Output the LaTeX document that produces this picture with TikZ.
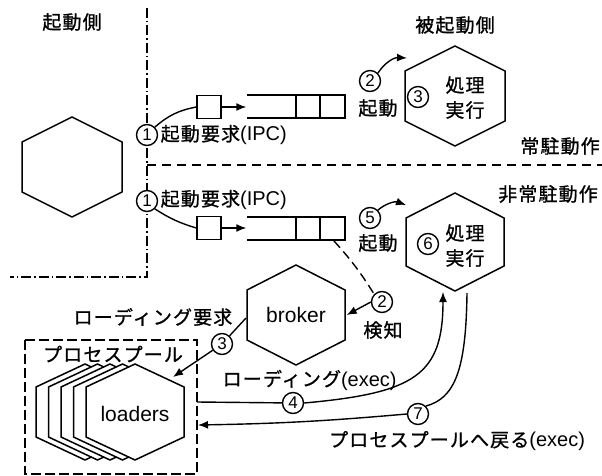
\documentclass[tikz,border=0pt]{standalone}
\usepackage{fontspec}
\setmainfont{Liberation Sans}
\newfontfamily\jp[LetterSpace=6,FakeBold=1]{Noto Sans CJK JP}
\usetikzlibrary{arrows.meta}
\newcommand{\hexshape}[5][]{\draw[#1] (#2) ++(0,{-(#4+#5/2)}) -- ++(#3,#4) -- ++(0,#5) -- ++(-#3,#4) -- ++(-#3,-#4) -- ++(0,-#5) -- cycle;}
\begin{document}
\begin{tikzpicture}[x=1pt,y=-1pt, line width=1.4pt,
  lat/.style={inner sep=0pt, font=\fontsize{21}{24}\selectfont},
  jtxt/.style={inner sep=0pt, font=\jp\fontsize{19}{22}\selectfont},
  num/.style={circle, draw, line width=1.4pt, minimum size=21pt, inner sep=0pt, fill=white, font=\fontsize{17}{17}\selectfont},
  hexbox/.style={minimum width=100pt, minimum height=100pt, inner sep=0pt},
  hexline/.style={line width=1.5pt, fill=white},
  arr/.style={-{Latex[length=10pt,width=8pt]}},
  dashdot/.style={line width=1.4pt, dash pattern=on 10pt off 3pt on 1.5pt off 3pt},
  dsh/.style={line width=1.4pt, dash pattern=on 9pt off 6pt},
  box/.style={draw, line width=1.4pt, minimum width=24pt, minimum height=23pt, inner sep=0pt},
]
\useasboundingbox (0,0) rectangle (602,476);

% region separators
\coordinate (vtop) at (147,8);
\coordinate (vmid) at (147,165);
\coordinate (vbot) at (147,277);
\coordinate (hleft) at (10,277);
\coordinate (hright) at (602,165);
\draw[dashdot] (vtop) -- (vmid) -- (vbot) -- (hleft);
\draw[dsh] (vmid) -- (hright);

% headings
\node[jtxt] (hdA) at (72,22) {起動側};
\node[jtxt] (hdB) at (455,25) {被起動側};
\node[jtxt] (hdC) at (560,146) {常駐動作};
\node[jtxt] (hdD) at (548,194) {非常駐動作};

% left hexagon
\hexshape[hexline]{72,167}{50}{25}{50}
\node[hexbox] (lhex) at (72,167) {};

% upper right hexagon
\hexshape[hexline]{455,96}{50}{25}{50}
\node[hexbox] (uhex) at (455,96) {};
\node[jtxt] (uhexA) at (465,85) {処理};
\node[jtxt] (uhexB) at (465,110) {実行};
\node[num] (n3u) at (418,97) {3};

% lower right hexagon
\hexshape[hexline]{455,242}{49}{25}{48}
\node[hexbox] (dhex) at (455,242) {};
\node[jtxt] (dhexA) at (465,233) {処理};
\node[jtxt] (dhexB) at (465,258) {実行};
\node[num] (n6) at (428,244) {6};

% upper queue
\node[box] (usq) at (209,107) {};
\node[inner sep=0pt, minimum width=0pt] (uqin) at (247,107) {};
\draw (247,95) -- (345,95) -- (345,118) -- (247,118);
\draw (296,95) -- (296,118);
\draw (320,95) -- (320,118);
\draw[arr] (usq) -- (uqin);
\node[num] (n1u) at (147,135) {1};
\node[anchor=west, inner sep=0pt] (req1) at (160,135) {\jp\fontsize{19}{22}\selectfont 起動要求\rmfamily\fontsize{20}{22}\selectfont(IPC)};
\draw (n1u.north east) to[bend left=15] (usq.west);
\node[num] (n2u) at (370,81) {2};
\node[jtxt] (kd1) at (378,108) {起動};
\coordinate (tipU) at (407,58);
\draw[arr] (n2u.north east) to[bend left=30] (tipU);

% lower queue
\node[box] (dsq) at (209,228) {};
\node[inner sep=0pt, minimum width=0pt] (dqin) at (247,228) {};
\draw (247,217) -- (345,217) -- (345,240) -- (247,240);
\draw (296,217) -- (296,240);
\draw (320,217) -- (320,240);
\draw[arr] (dsq) -- (dqin);
\node[num] (n1d) at (147,201) {1};
\node[anchor=west, inner sep=0pt] (req2) at (160,200) {\jp\fontsize{19}{22}\selectfont 起動要求\rmfamily\fontsize{20}{22}\selectfont(IPC)};
\draw (n1d.south east) to[bend right=8] (dsq.west);
\node[num] (n5) at (370,218) {5};
\node[jtxt] (kd2) at (378,243) {起動};
\coordinate (tipD) at (406,205);
\draw[arr] (n5.north east) to[bend left=30] (tipD);
\coordinate (qout) at (334,241);

% broker
\hexshape[hexline]{296,315}{49}{25}{50}
\node[hexbox, lat] (broker) at (296,315) {broker};
\node[num] (n2d) at (382,302) {2};
\node[jtxt] (kenchi) at (383,330) {検知};
\draw[dsh, dash pattern=on 9pt off 5pt] (qout) to[bend left=5] (n2d.north west);
\draw[arr] (n2d.west) -- (broker.east);

% process pool
\draw[dsh, dash pattern=on 10pt off 4pt] (25,340) rectangle (197,474);
\node[jtxt] (pool) at (113,354) {プロセスプール};
\foreach \i in {4,3,2,1} {
  \hexshape[hexline]{{135-12.5*\i},412}{49}{23}{50}
}
\hexshape[hexline]{135,412}{49}{23}{50}
\node[hexbox, lat] (loaders) at (135,414) {loaders};

% loading request
\node[jtxt, anchor=east] (ldreq) at (233,317) {ローディング要求};
\node[num] (n3d) at (222,344) {3};
\coordinate (bkL) at (246,318);
\coordinate (ldtip) at (173,377);
\draw (bkL) -- (n3d);
\draw[arr] (n3d) -- (ldtip);

% loading (exec)
\coordinate (poolR1) at (197,402);
\node[num] (n4) at (293,403) {4};
\coordinate (dhexIn) at (443,292);
\draw (poolR1) -- (n4);
\draw[arr] (n4.east) .. controls (415,393) and (443,375) .. (dhexIn);
\node[anchor=west, inner sep=0pt] (ldexec) at (222,380) {\jp\fontsize{19}{22}\selectfont ローディング\rmfamily\fontsize{20}{22}\selectfont(exec)};

% return to pool
\coordinate (dhexOut) at (467,293);
\node[num] (n7) at (418,414) {7};
\coordinate (poolR2) at (198,425);
\draw (dhexOut) .. controls (466,370) and (455,398) .. (n7.north east);
\draw[arr] (n7.west) to[bend left=2] (poolR2);
\node[anchor=center, inner sep=0pt] (ret) at (457,441) {\jp\fontsize{19}{22}\selectfont プロセスプールへ戻る\rmfamily\fontsize{20}{22}\selectfont(exec)};
\end{tikzpicture}
\end{document}
